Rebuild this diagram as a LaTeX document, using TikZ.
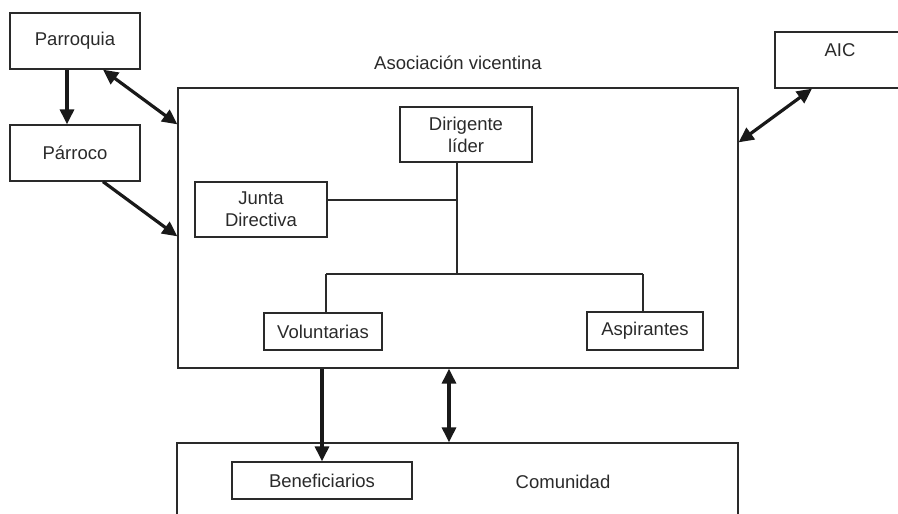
\documentclass[tikz,border=0pt]{standalone}
\usepackage{fontspec}
\setmainfont{Liberation Sans}
\usetikzlibrary{arrows.meta}
\definecolor{ink}{HTML}{2A2A2A}
\tikzset{
  box/.style={draw=ink, line width=1.3pt, inner sep=0pt, text=ink, align=center,
    font=\fontsize{18.5pt}{22pt}\selectfont},
  lbl/.style={text=ink, inner sep=0pt, font=\fontsize{18.5pt}{22pt}\selectfont},
  tree/.style={draw=ink, line width=1.2pt},
  arr/.style={draw=black!90, line width=3.2pt, -{Triangle[length=15pt,width=14pt]}},
  darr/.style={draw=black!90, line width=3.2pt, {Triangle[length=15pt,width=14pt]}-{Triangle[length=15pt,width=14pt]}},
}
\begin{document}
\begin{tikzpicture}[x=1pt,y=-1pt]
\useasboundingbox (0,0) rectangle (898,514);
\clip (0,0) rectangle (898,514);
% boxes
\node[box, minimum width=130pt, minimum height=56pt] (parroquia) at (75,41) {Parroquia};
\node[box, minimum width=130pt, minimum height=56pt] (parroco) at (75,153) {Párroco};
\node[draw=ink, line width=1.3pt, minimum width=560pt, minimum height=280pt, inner sep=0pt] (main) at (458,228) {};
\node[lbl] (asoc) at (458,63) {Asociación vicentina};
\node[draw=ink, line width=1.3pt, minimum width=140pt, minimum height=56pt, inner sep=0pt] (aic) at (845,60) {};
\node[lbl] (aictext) at (840,50) {AIC};
\node[box, minimum width=132pt, minimum height=55pt] (dirigente) at (466,134.5) {Dirigente\\líder};
\node[box, minimum width=132pt, minimum height=55pt] (junta) at (261,209.5) {Junta\\Directiva};
\node[box, minimum width=118pt, minimum height=37pt] (voluntarias) at (323,331.5) {Voluntarias};
\node[box, minimum width=116pt, minimum height=38pt] (aspirantes) at (645,331) {Aspirantes};
\node[draw=ink, line width=1.3pt, minimum width=561pt, minimum height=100pt, inner sep=0pt] (comunidad) at (457.5,493) {};
\node[lbl] (comtext) at (563,482) {Comunidad};
\node[box, minimum width=180pt, minimum height=37pt] (benef) at (322,480.5) {Beneficiarios};
% tree
\coordinate (jn) at (457,200);
\coordinate (br) at (457,274);
\coordinate (bl) at (326,274);
\coordinate (bra) at (643,274);
\draw[tree] ([xshift=-9pt]dirigente.south) -- (br);
\draw[tree] (junta.east |- jn) -- (jn);
\draw[tree] (bl) -- (bra);
\draw[tree] (bl) -- (bl |- voluntarias.north);
\draw[tree] (bra) -- (bra |- aspirantes.north);
% arrows
\draw[arr] ([xshift=-8pt]parroquia.south) -- ([xshift=-8pt]parroco.north);
\draw[darr] ([xshift=28pt]parroquia.south) -- ([yshift=-37pt]main.north west);
\draw[arr] ([xshift=28pt]parroco.south) -- ([yshift=-149pt]main.north west);
\draw[darr] ([xshift=-33pt]aic.south) -- ([yshift=-55pt]main.north east);
\draw[arr] (main.south -| benef.north) -- (benef.north);
\draw[darr] ([xshift=-9pt]main.south) -- ([xshift=-8.5pt]comunidad.north);
\end{tikzpicture}
\end{document}
